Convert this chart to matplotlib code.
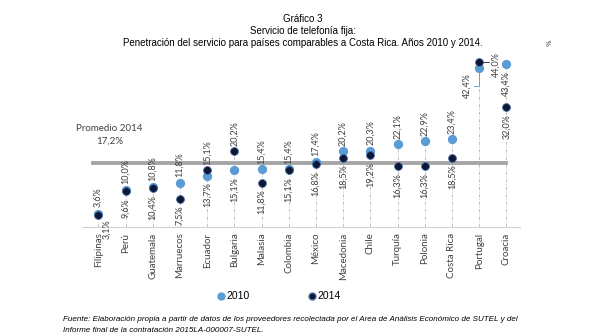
import matplotlib
matplotlib.use('Agg')
import matplotlib.pyplot as plt
from matplotlib.lines import Line2D

paises = ['Filipinas', 'Perú', 'Guatemala', 'Marruecos', 'Ecuador', 'Bulgaria', 'Malasia',
          'Colombia', 'México', 'Macedonia', 'Chile', 'Turquía', 'Polonia', 'Costa Rica',
          'Portugal', 'Croacia']
v2010 = [3.6, 10.0, 10.8, 11.8, 13.7, 15.1, 15.4, 15.4, 17.4, 20.2, 20.3, 22.1, 22.9, 23.4, 42.4, 43.4]
v2014 = [3.1, 9.6, 10.4, 7.5, 15.1, 20.2, 11.8, 15.1, 16.8, 18.5, 19.2, 16.3, 16.3, 18.5, 44.0, 32.0]
promedio = 17.2

c2010 = '#5b9bd5'
c2014 = '#0c1836'
gris = '#404040'
fam = ['Lato', 'DejaVu Sans']

def fmt(v):
    return f'{v:.1f}%'.replace('.', ',')

def etiqueta(ax, txt, xy, dx, dy, va, guia=None):
    ax.annotate(txt, xy, xytext=(dx, dy), textcoords='offset points', rotation=90,
                ha='center', va=va, fontsize=6.5, color=gris, family=fam,
                arrowprops=guia)

fig = plt.figure(figsize=(6.05, 3.36), dpi=100)
ax = fig.add_axes([0.1355, 0.3244, 0.724, 0.558])

x = list(range(len(paises)))

# lineas verticales punteadas
for i in x:
    ax.plot([i, i], [0, max(v2010[i], v2014[i])], color='#b5b5b5', lw=0.6,
            ls=(0, (4, 2, 1, 2)), zorder=1)

# promedio 2014
ax.plot([-0.2, 15.0], [promedio, promedio], color='#a6a6a6', lw=2.8, zorder=2)

ax.scatter(x, v2010, s=32, color=c2010, zorder=3)
ax.scatter(x, v2014, s=32, color=c2014, edgecolors='#4a6fa8', linewidths=0.6, zorder=4)

# etiquetas de valores
for i in x:
    a, b = v2010[i], v2014[i]
    hi, lo = max(a, b), min(a, b)
    if paises[i] == 'Filipinas':
        etiqueta(ax, fmt(a), (i, a), 0, 5, 'bottom')
        etiqueta(ax, fmt(b), (i, b), 6, -3, 'top')
    elif paises[i] == 'Portugal':
        etiqueta(ax, fmt(a), (i, a), -9, -4, 'top',
                 dict(arrowstyle='-', color=c2010, lw=0.6, shrinkA=0, shrinkB=3,
                      connectionstyle='angle,angleA=0,angleB=90,rad=0'))
        etiqueta(ax, fmt(b), (i, b), 12, 7, 'top',
                 dict(arrowstyle='-', color=c2014, lw=0.6, shrinkA=0, shrinkB=3,
                      connectionstyle='angle,angleA=90,angleB=0,rad=0'))
    elif paises[i] == 'Croacia':
        etiqueta(ax, fmt(hi), (i, hi), 0, -5, 'top')
        etiqueta(ax, fmt(lo), (i, lo), 0, -5, 'top')
    else:
        etiqueta(ax, fmt(hi), (i, hi), 0, 4, 'bottom')
        etiqueta(ax, fmt(lo), (i, lo), 0, -5, 'top')

ax.text(0.4, 25.0, 'Promedio 2014', ha='center', va='bottom', fontsize=7, color=gris, family=fam)
ax.text(0.4, 21.8, '17,2%', ha='center', va='bottom', fontsize=7, color=gris, family=fam)

ax.set_xlim(-0.6, 15.5)
ax.set_ylim(0, 50)
ax.set_xticks(x)
ax.set_xticklabels(paises, rotation=90, fontsize=7, color=gris, family=fam)
ax.tick_params(axis='x', length=0, pad=4)
ax.set_yticks([])
for s in ['top', 'right', 'left']:
    ax.spines[s].set_visible(False)
ax.spines['bottom'].set_color('#d0d0d0')
ax.spines['bottom'].set_linewidth(0.8)

fig.text(0.903, 0.865, '%', rotation=90, fontsize=5, color=gris)

# titulo
fig.text(0.5, 0.936, 'Gráfico 3', ha='center', fontsize=7, family='Liberation Sans')
fig.text(0.5, 0.899, 'Servicio de telefonía fija:', ha='center', fontsize=7, family='Liberation Sans')
fig.text(0.5, 0.862, 'Penetración del servicio para países comparables a Costa Rica. Años 2010 y 2014.',
         ha='center', fontsize=7, family='Liberation Sans')

handles = [Line2D([], [], marker='o', ls='', color=c2010, markersize=5, label='2010'),
           Line2D([], [], marker='o', ls='', color=c2014, markeredgecolor='#4a6fa8',
                  markersize=5, label='2014')]
fig.legend(handles=handles, loc='center', bbox_to_anchor=(0.46, 0.118), ncol=2, frameon=False,
           handletextpad=0.05, columnspacing=5.5, handlelength=1,
           prop={'family': 'Liberation Sans', 'size': 7.5})

fig.text(0.104, 0.045, 'Fuente: Elaboración propia a partir de datos de los proveedores recolectada por el Area de Análisis Económico de SUTEL y del',
         fontsize=5.8, style='italic', family='Liberation Sans')
fig.text(0.104, 0.012, 'Informe final de la contratación 2015LA-000007-SUTEL.',
         fontsize=5.8, style='italic', family='Liberation Sans')

fig.savefig('out.png', dpi=100)
